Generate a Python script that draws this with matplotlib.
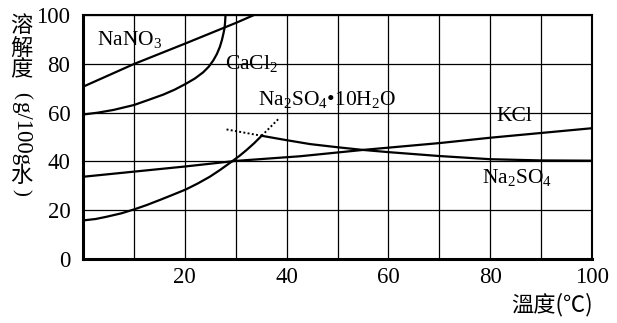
import matplotlib
matplotlib.use("Agg")
import matplotlib.pyplot as plt

plt.rcParams['font.family'] = ['Liberation Serif', 'Noto Sans CJK TC']
plt.rcParams['mathtext.fontset'] = 'custom'
plt.rcParams['mathtext.rm'] = 'Liberation Serif'
plt.rcParams['mathtext.it'] = 'Liberation Serif:italic'

# Solubility curves (g per 100 g water) vs temperature (°C)
nano3_t = [0, 10, 20.2, 30.2, 33.6]
nano3_s = [70.6, 79.9, 88.4, 96.9, 100]

cacl2_t = [0, 3, 6, 10, 13, 15.8, 18, 20.2, 22, 23.6, 24.7, 25.6, 26.3, 26.9, 27.3, 27.6, 27.8, 27.9, 28.0]
cacl2_s = [59.2, 60.0, 61.1, 63.1, 65.3, 67.4, 69.4, 71.8, 74.0, 76.5, 78.8, 81.4, 84.0, 87.0, 89.8, 92.5, 94.6, 96.6, 100]

hydrate_t = [0, 2.5, 4.6, 7.5, 10, 12.5, 15.1, 17.5, 20.2, 22.5, 24.9, 27, 29.2, 30.7, 32.1, 33.6, 35.1]
hydrate_s = [15.8, 16.4, 17.3, 18.7, 20.3, 22.1, 24.2, 26.2, 28.5, 30.9, 33.7, 36.6, 39.9, 42.2, 44.6, 47.4, 50.5]

hydrate_ext_t = [35.1, 38.5]
hydrate_ext_s = [50.5, 57.6]
anhydrous_ext_t = [28.2, 35.1]
anhydrous_ext_s = [53.1, 50.5]

na2so4_t = [35.1, 40, 44.6, 50, 55, 60, 70, 80, 90, 100]
na2so4_s = [50.5, 48.7, 47.1, 45.8, 44.7, 43.8, 42.2, 40.9, 40.4, 40.3]

kcl_t = [0, 10, 20, 30, 42.6, 55, 70, 80, 100]
kcl_s = [33.7, 35.8, 37.9, 40.2, 42.1, 44.7, 47.5, 49.7, 53.6]

x_ticks = [20, 40, 60, 80, 100]
y_ticks = [0, 20, 40, 60, 80, 100]

W, H = 617, 323
fig = plt.figure(figsize=(W / 100, H / 100), dpi=100)
ax = fig.add_axes([83 / W, 1 - 259 / H, (592 - 83) / W, (259 - 15) / H])

ax.set_xlim(0, 100)
ax.set_ylim(0, 100)
ax.set_xticks(x_ticks, labels=[str(v) for v in x_ticks])
ax.set_xticks(range(10, 100, 10), minor=True)
ax.set_yticks(y_ticks, labels=[str(v) for v in y_ticks])
ax.grid(True, which='both', axis='x', color='black', linewidth=0.9)
ax.grid(True, which='major', axis='y', color='black', linewidth=0.9)
ax.set_axisbelow(True)
ax.tick_params(axis='both', which='both', length=0, labelsize=16.5)
ax.tick_params(axis='x', pad=6)
ax.tick_params(axis='y', pad=9)
for side in ['left', 'bottom']:
    ax.spines[side].set_linewidth(2.2)
for side in ['top', 'right']:
    ax.spines[side].set_linewidth(1.5)

lw = 1.6
ax.plot(nano3_t, nano3_s, color='black', lw=lw)
ax.plot(cacl2_t, cacl2_s, color='black', lw=lw)
ax.plot(hydrate_t, hydrate_s, color='black', lw=lw)
ax.plot(na2so4_t, na2so4_s, color='black', lw=lw)
ax.plot(kcl_t, kcl_s, color='black', lw=lw)
ax.plot(hydrate_ext_t, hydrate_ext_s, color='black', lw=1.4, linestyle=(0, (1, 1.2)))
ax.plot(anhydrous_ext_t, anhydrous_ext_s, color='black', lw=1.4, linestyle=(0, (1, 1.2)))

fs = 15.5
ax.text(2.8, 89.8, r'NaNO$_\mathrm{3}$', fontsize=fs, va='center')
ax.text(27.9, 80.3, r'CaCl$_\mathrm{2}$', fontsize=fs, va='center')
ax.text(34.4, 65.2, r'Na$_\mathrm{2}$SO$_\mathrm{4}$•10H$_\mathrm{2}$O', fontsize=fs, va='center')
ax.text(81.3, 58.2, 'KCl', fontsize=fs, va='center')
ax.text(78.4, 33.2, r'Na$_\mathrm{2}$SO$_\mathrm{4}$', fontsize=fs, va='center')

# Vertical axis title
cjk = ['Noto Sans CJK TC']
xl = 21 / W
for ch, yp in [('溶', 25), ('解', 48), ('度', 70)]:
    fig.text(xl, 1 - yp / H, ch, fontsize=16, family=cjk, ha='center', va='center')
fig.text(xl, 1 - 95 / H, '(', fontsize=15, ha='center', va='center', rotation=-90)
fig.text(xl, 1 - 134 / H, 'g/100g', fontsize=16.5, ha='center', va='center', rotation=-90)
fig.text(xl, 1 - 175 / H, '水', fontsize=16, family=cjk, ha='center', va='center')
fig.text(xl, 1 - 192 / H, ')', fontsize=15, ha='center', va='center', rotation=-90)

fig.text(593 / W, 1 - 305 / H, '溫度(℃)', fontsize=16, family=['Noto Sans CJK TC', 'DejaVu Sans'],
         ha='right', va='center')

fig.savefig('out.png', dpi=100)
